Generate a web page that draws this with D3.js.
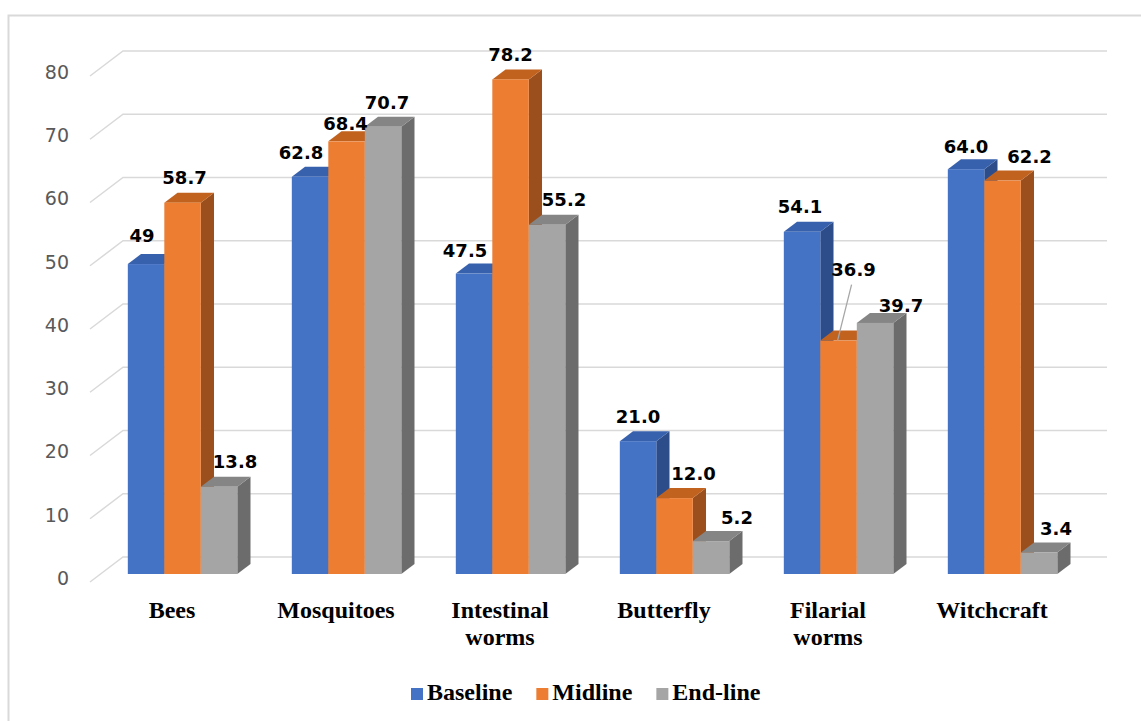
<!DOCTYPE html>
<html>
<head>
<meta charset="utf-8">
<script src="https://cdn.jsdelivr.net/npm/d3@7"></script>
<style>
  html, body { margin: 0; padding: 0; background: #ffffff; }
  svg { display: block; }
</style>
</head>
<body>
<svg id="chart" width="1141" height="721"></svg>
<script>
// ---- data ----
const categories = ["Bees", "Mosquitoes", "Intestinal worms", "Butterfly", "Filarial worms", "Witchcraft"];
const seriesNames = ["Baseline", "Midline", "End-line"];
// values kept as the printed label text; bars use the numeric value of the same string
const baseline = ["49", "62.8", "47.5", "21.0", "54.1", "64.0"];
const midline  = ["58.7", "68.4", "78.2", "12.0", "36.9", "62.2"];
const endline  = ["13.8", "70.7", "55.2", "5.2", "39.7", "3.4"];
const yTicks = [0, 10, 20, 30, 40, 50, 60, 70, 80];

// ---- layout ----
const frontColors = ["#4472C4", "#ED7D31", "#A5A5A5"];
const topColors   = ["#3761AC", "#C2621F", "#858585"];
const sideColors  = ["#2D4D8A", "#9B4F1C", "#6C6C6C"];

// hand-placed label nudges [dx, dy] per series, per category
const labelNudge = [
  [[-4, -4], [-9, 1], [-9, 2], [0, 0], [-2, 0], [0, 2]],
  [[2, 0], [-1, 7], [0, 0], [19, 0], [15, -46], [27, 1]],
  [[16, 0], [4, 1], [17, 0], [26, 1], [26, 8], [17, 1]]
];

const svg = d3.select("#chart");

// chart frame
svg.append("rect")
  .attr("x", 8.5).attr("y", 15.5)
  .attr("width", 1160).attr("height", 720)
  .attr("fill", "none").attr("stroke", "#d9d9d9").attr("stroke-width", 2);

// oblique 3D projection: z = 0 front of floor, z = 1 back wall
const depthX = 33, depthY = -25;
const floorFront = 582;
const y = d3.scaleLinear().domain([0, 80]).range([floorFront, floorFront - 506]);
const x0 = d3.scaleBand().domain(categories).range([90, 1074]).paddingInner(0).paddingOuter(0);
const x1 = d3.scaleBand().domain(seriesNames).range([0, x0.bandwidth()]).paddingInner(0).paddingOuter(0.747);
const P = (x, v, z) => [x + depthX * z, y(v) + depthY * z];

// gridlines: side-wall diagonal + back wall
const grid = svg.append("g").attr("fill", "none").attr("stroke", "#d9d9d9").attr("stroke-width", 1.5);
yTicks.forEach(t => {
  const a = P(90, t, 0), b = P(90, t, 1), c = P(1074, t, 1);
  grid.append("polyline").attr("points", [a, b, c].map(p => p.join(",")).join(" "));
});

// y-axis tick labels
svg.append("g").selectAll("text").data(yTicks).join("text")
  .attr("x", 69).attr("y", d => y(d) - 4)
  .attr("dy", "0.36em")
  .attr("text-anchor", "end")
  .attr("font-family", "DejaVu Sans")
  .attr("font-size", 19)
  .attr("fill", "#595959")
  .text(d => d);

// bars
const seriesData = [baseline, midline, endline];
const zF = 0.32, zB = 0.72;
const bars = [];
seriesData.forEach((arr, s) => arr.forEach((txt, c) => {
  bars.push({ s, c, txt, v: +txt });
}));
bars.sort((a, b) => a.c - b.c || a.s - b.s);

const barG = svg.append("g");
bars.forEach(d => {
  const xl = x0(categories[d.c]) + x1(seriesNames[d.s]);
  const w = x1.bandwidth();
  const [fx, ft] = P(xl, d.v, zF);
  const fb = P(xl, 0, zF)[1];
  const [bx, bt] = P(xl, d.v, zB);
  const bb = P(xl, 0, zB)[1];
  d.cx = fx + w / 2; d.top = ft;
  const g = barG.append("g");
  g.append("polygon")
    .attr("points", [[fx + w, ft], [bx + w, bt], [bx + w, bb], [fx + w, fb]].map(p => p.join(",")).join(" "))
    .attr("fill", sideColors[d.s]);
  g.append("polygon")
    .attr("points", [[fx, ft], [fx + w, ft], [bx + w, bt], [bx, bt]].map(p => p.join(",")).join(" "))
    .attr("fill", topColors[d.s]);
  g.append("rect")
    .attr("x", fx).attr("y", ft)
    .attr("width", w).attr("height", fb - ft)
    .attr("fill", frontColors[d.s]);
});

// value labels
const lab = svg.append("g");
bars.forEach(d => {
  const [ndx, ndy] = labelNudge[d.s][d.c];
  const lx = d.cx + ndx, ly = d.top - 25 + ndy;
  if (ndy < -30) {
    lab.append("line")
      .attr("x1", lx - 2).attr("y1", ly + 15)
      .attr("x2", d.cx - 1).attr("y2", d.top)
      .attr("stroke", "#a6a6a6").attr("stroke-width", 1.3);
  }
  lab.append("text")
    .attr("x", lx).attr("y", ly).attr("dy", "0.36em")
    .attr("text-anchor", "middle")
    .attr("font-family", "DejaVu Sans")
    .attr("font-weight", "bold")
    .attr("font-size", 18)
    .attr("fill", "#000")
    .text(d.txt);
});

// category labels
const catG = svg.append("g");
categories.forEach(cat => {
  const words = cat.split(" ");
  const cx = x0(cat) + x0.bandwidth() / 2;
  const t = catG.append("text")
    .attr("x", cx)
    .attr("y", 618)
    .attr("text-anchor", "middle")
    .attr("font-family", "Liberation Serif")
    .attr("font-weight", "bold")
    .attr("font-size", 24)
    .attr("fill", "#000");
  words.forEach((wd, i) => {
    t.append("tspan").attr("x", cx).attr("dy", i === 0 ? 0 : 27).text(wd);
  });
});

// legend
const leg = svg.append("g");
let lxPos = 411;
seriesNames.forEach((name, i) => {
  leg.append("rect").attr("x", lxPos).attr("y", 688).attr("width", 12).attr("height", 12).attr("fill", frontColors[i]);
  const t = leg.append("text")
    .attr("x", lxPos + 16).attr("y", 700)
    .attr("font-family", "Liberation Serif")
    .attr("font-weight", "bold")
    .attr("font-size", 24)
    .attr("fill", "#000")
    .text(name);
  lxPos += 16 + t.node().getComputedTextLength() + 24;
});
</script>
</body>
</html>
